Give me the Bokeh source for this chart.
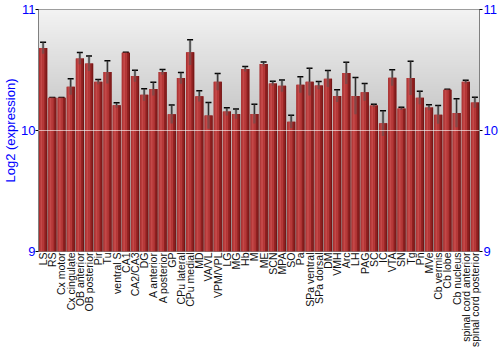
import math
import numpy as np
from bokeh.plotting import figure
from bokeh.models import ColumnDataSource, LinearAxis, Range1d, FactorRange, Whisker, TeeHead, FixedTicker
from bokeh.transform import dodge
from bokeh.embed import file_html
from bokeh.resources import INLINE

regions = ["LS", "RS", "Cx motor", "Cx cingulate", "OB anterior", "OB posterior", "Pir", "Tu",
           "ventral S", "CA1", "CA2/CA3", "DG", "A anterior", "A posterior", "GP", "CPu lateral",
           "CPu medial", "MD", "VA/VL", "VPM/VPL", "LG", "MG", "Hb", "M", "ME", "SCN", "MPA", "SO",
           "Pa", "SPa ventral", "SPa dorsal", "DM", "VMH", "Arc", "LH", "PAG", "SC", "IC", "VTA",
           "SN", "Tg", "Pn", "MVe", "Cb vermis", "Cb lobe", "Cb nucleus", "spinal cord anterior",
           "spinal cord posterior"]
expression = [10.682, 10.270, 10.270, 10.361, 10.596, 10.554, 10.402, 10.483,
              10.209, 10.643, 10.450, 10.295, 10.344, 10.483, 10.134, 10.433,
              10.646, 10.284, 10.123, 10.402, 10.156, 10.137, 10.508, 10.137, 10.549, 10.389, 10.369, 10.073,
              10.378, 10.402, 10.372, 10.427, 10.286, 10.475, 10.286, 10.317, 10.206, 10.059, 10.436,
              10.181, 10.433, 10.270, 10.190, 10.131, 10.336, 10.145, 10.402,
              10.231]
error = [0.047, 0.003, 0.003, 0.066, 0.048, 0.062, 0.020, 0.094,
         0.020, 0.003, 0.048, 0.050, 0.055, 0.022, 0.076, 0.046,
         0.104, 0.044, 0.108, 0.069, 0.032, 0.040, 0.021, 0.080, 0.018, 0.019, 0.048, 0.053,
         0.066, 0.113, 0.032, 0.068, 0.051, 0.090, 0.152, 0.072, 0.011, 0.104, 0.066,
         0.011, 0.140, 0.054, 0.022, 0.075, 0.004, 0.118, 0.014,
         0.043]
y_ticks = [9, 10, 11]

base = 9
src = ColumnDataSource(dict(
    x=regions, top=expression,
    upper=[v + e for v, e in zip(expression, error)],
    lower=[v - e for v, e in zip(expression, error)],
))

p = figure(width=500, height=350, x_range=FactorRange(*regions, range_padding=0),
           y_range=Range1d(9, 11), output_backend="svg", toolbar_location=None,
           min_border_left=0, min_border_right=0, min_border_top=9, min_border_bottom=0)

# background gradient
n = 200
g = np.linspace(0x92, 0xf3, n).astype(np.uint32)
img = np.empty((n, 1), dtype=np.uint32)
view = img.view(dtype=np.uint8).reshape((n, 1, 4))
view[:, 0, 0] = g
view[:, 0, 1] = g
view[:, 0, 2] = g
view[:, 0, 3] = 255
p.image_rgba(image=[img], x=0, y=9, dw=len(regions), dh=2, level="image")

p.background_fill_color = "#d0d0d0"
p.border_fill_color = "white"
p.outline_line_color = "#808080"
p.outline_line_width = 1

# bars with horizontal shading
p.vbar(x="x", top="top", bottom=base, width=0.9, source=src, fill_color="#a52a2a", line_color=None)
p.vbar(x=dodge("x", -0.33, range=p.x_range), top="top", bottom=base, width=0.12, source=src,
       fill_color="#b33a3a", line_color=None)
p.vbar(x=dodge("x", -0.17, range=p.x_range), top="top", bottom=base, width=0.22, source=src,
       fill_color="#c44848", line_color=None)
p.vbar(x=dodge("x", 0.05, range=p.x_range), top="top", bottom=base, width=0.22, source=src,
       fill_color="#b53838", line_color=None)
p.vbar(x=dodge("x", 0.26, range=p.x_range), top="top", bottom=base, width=0.2, source=src,
       fill_color="#8e2020", line_color=None)
p.vbar(x=dodge("x", 0.4, range=p.x_range), top="top", bottom=base, width=0.1, source=src,
       fill_color="#6e1414", line_color=None)

# error bars: grey halo then black
p.segment(x0="x", x1="x", y0="lower", y1="upper", source=src, line_color="#555555",
          line_width=2.5, line_alpha=0.5)
w = Whisker(base="x", upper="upper", lower="lower", source=src, line_color="black", line_width=1,
            upper_head=TeeHead(size=6, line_color="black", line_width=1.5),
            lower_head=TeeHead(size=6, line_color="black", line_width=1.5))
p.add_layout(w)

p.xgrid.grid_line_color = None
p.ygrid.ticker = FixedTicker(ticks=[10])
p.ygrid.grid_line_color = "white"
p.ygrid.grid_line_alpha = 0.6
p.ygrid.level = "overlay"

p.yaxis.ticker = FixedTicker(ticks=y_ticks)
p.yaxis.axis_label = "Log2 (expression)"
p.yaxis.axis_label_text_color = "blue"
p.yaxis.axis_label_text_font = "Liberation Sans"
p.yaxis.axis_label_text_font_style = "normal"
p.yaxis.axis_label_text_font_size = "13px"
p.yaxis.axis_label_standoff = 0
p.yaxis.major_label_text_color = "blue"
p.yaxis.major_label_text_font = "Liberation Sans"
p.yaxis.major_label_text_font_size = "13px"
p.yaxis.major_label_standoff = 0
p.yaxis.axis_line_color = "#808080"
p.yaxis.major_tick_line_color = "black"
p.yaxis.major_tick_out = 3
p.yaxis.major_tick_in = 0
p.yaxis.minor_tick_line_color = None

ra = LinearAxis(ticker=FixedTicker(ticks=y_ticks), major_label_text_color="blue",
                major_label_text_font="Liberation Sans", major_label_text_font_size="13px",
                major_label_standoff=1, axis_line_color="#808080", major_tick_line_color="black",
                major_tick_out=3, major_tick_in=0, minor_tick_line_color=None)
p.add_layout(ra, "right")

p.xaxis.major_label_orientation = math.pi / 2
p.xaxis.major_label_text_font = "Liberation Sans"
p.xaxis.major_label_text_font_size = "10.5px"
p.xaxis.major_label_text_color = "#111111"
p.xaxis.major_label_standoff = 1
p.xaxis.axis_line_color = None
p.xaxis.major_tick_line_color = None
p.xaxis.minor_tick_line_color = None
p.xaxis.major_tick_out = 0

open("out.html", "w").write(file_html(p, INLINE))
